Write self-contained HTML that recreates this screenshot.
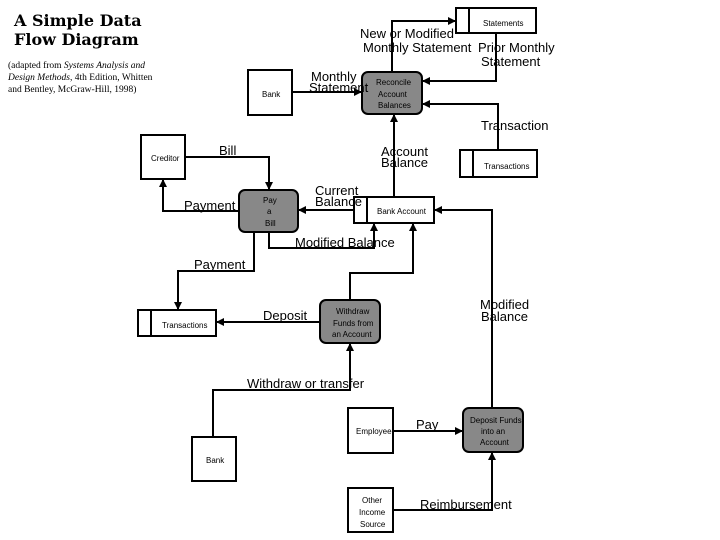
<!DOCTYPE html>
<html><head><meta charset="utf-8"><style>
body{margin:0;background:#fff;width:720px;height:540px;overflow:hidden}
svg{display:block}
.l{font-family:"Liberation Sans",sans-serif;font-size:13px;fill:#000}
.n{font-family:"Liberation Sans",sans-serif;font-size:8px;fill:#000}
.w{fill:#fff;stroke:#000;stroke-width:2}
.p{fill:#888;stroke:#000;stroke-width:2}
.c{fill:none;stroke:#000;stroke-width:2}
</style></head><body>
<svg width="720" height="540" viewBox="0 0 720 540">
<defs><marker id="a" markerWidth="8" markerHeight="8" refX="7" refY="4" orient="auto" markerUnits="userSpaceOnUse"><path d="M0,0L8,4L0,8z" fill="#000"/></marker></defs>
<text x="14" y="26" style="font-family:'DejaVu Serif',serif;font-weight:900;font-size:16px">A Simple Data</text>
<text x="14" y="45" style="font-family:'DejaVu Serif',serif;font-weight:900;font-size:16px">Flow Diagram</text>
<text x="8" y="68" style="font-family:'Liberation Serif',serif;font-size:9.5px">(adapted from <tspan font-style="italic">Systems Analysis and</tspan></text>
<text x="8" y="80" style="font-family:'Liberation Serif',serif;font-size:9.5px"><tspan font-style="italic">Design Methods,</tspan> 4th Edition, Whitten</text>
<text x="8" y="92" style="font-family:'Liberation Serif',serif;font-size:9.5px">and Bentley, McGraw-Hill, 1998)</text>

<!-- connectors -->
<path class="c" d="M292,92H361" marker-end="url(#a)"/>
<path class="c" d="M392,72V21H455" marker-end="url(#a)"/>
<path class="c" d="M496,33V81H423" marker-end="url(#a)"/>
<path class="c" d="M498,150V104H423" marker-end="url(#a)"/>
<path class="c" d="M394,197V115" marker-end="url(#a)"/>
<path class="c" d="M354,210H299" marker-end="url(#a)"/>
<path class="c" d="M269,232V248H374V224" marker-end="url(#a)"/>
<path class="c" d="M185,157H269V189" marker-end="url(#a)"/>
<path class="c" d="M239,211H163V180" marker-end="url(#a)"/>
<path class="c" d="M254,232V271H178V309" marker-end="url(#a)"/>
<path class="c" d="M350,300V273H413V224" marker-end="url(#a)"/>
<path class="c" d="M492,408V210H435" marker-end="url(#a)"/>
<path class="c" d="M320,322H217" marker-end="url(#a)"/>
<path class="c" d="M213,437V390H350V344" marker-end="url(#a)"/>
<path class="c" d="M393,431H462" marker-end="url(#a)"/>
<path class="c" d="M393,510H492V453" marker-end="url(#a)"/>

<!-- nodes -->
<rect class="w" x="456" y="8" width="80" height="25"/><line class="c" x1="469" y1="8" x2="469" y2="33"/>
<text class="n" x="483" y="26">Statements</text>
<rect class="p" x="362" y="72" width="60" height="42" rx="6"/>
<text class="n" x="376" y="85">Reconcile</text><text class="n" x="378" y="97">Account</text><text class="n" x="378" y="108">Balances</text>
<rect class="w" x="248" y="70" width="44" height="45"/><text class="n" x="262" y="97">Bank</text>
<rect class="w" x="460" y="150" width="77" height="27"/><line class="c" x1="473" y1="150" x2="473" y2="177"/>
<text class="n" x="484" y="169">Transactions</text>
<rect class="w" x="141" y="135" width="44" height="44"/><text class="n" x="151" y="161">Creditor</text>
<rect class="p" x="239" y="190" width="59" height="42" rx="6"/>
<text class="n" x="263" y="203">Pay</text><text class="n" x="267" y="214">a</text><text class="n" x="265" y="226">Bill</text>
<rect class="w" x="354" y="197" width="80" height="26"/><line class="c" x1="367" y1="197" x2="367" y2="223"/>
<text class="n" x="377" y="214">Bank Account</text>
<rect class="w" x="138" y="310" width="78" height="26"/><line class="c" x1="151" y1="310" x2="151" y2="336"/>
<text class="n" x="162" y="328">Transactions</text>
<rect class="p" x="320" y="300" width="60" height="43" rx="6"/>
<text class="n" x="336" y="314">Withdraw</text><text class="n" x="333" y="326">Funds from</text><text class="n" x="332" y="337">an Account</text>
<rect class="w" x="192" y="437" width="44" height="44"/><text class="n" x="206" y="463">Bank</text>
<rect class="w" x="348" y="408" width="45" height="45"/><text class="n" x="356" y="434">Employee</text>
<rect class="p" x="463" y="408" width="60" height="44" rx="6"/>
<text class="n" x="470" y="423">Deposit Funds</text><text class="n" x="481" y="434">into an</text><text class="n" x="480" y="445">Account</text>
<rect class="w" x="348" y="488" width="45" height="44"/>
<text class="n" x="362" y="503">Other</text><text class="n" x="359" y="515">Income</text><text class="n" x="360" y="527">Source</text>

<!-- labels -->
<text class="l" x="311" y="81">Monthly</text><text class="l" x="309" y="92">Statement</text>
<text class="l" x="360" y="38">New or Modified</text><text class="l" x="363" y="52">Monthly Statement</text>
<text class="l" x="478" y="52">Prior Monthly</text><text class="l" x="481" y="66">Statement</text>
<text class="l" x="481" y="130">Transaction</text>
<text class="l" x="381" y="156">Account</text><text class="l" x="381" y="167">Balance</text>
<text class="l" x="315" y="195">Current</text><text class="l" x="315" y="206">Balance</text>
<text class="l" x="295" y="247">Modified Balance</text>
<text class="l" x="219" y="155">Bill</text>
<text class="l" x="184" y="210">Payment</text>
<text class="l" x="194" y="269">Payment</text>
<text class="l" x="263" y="320">Deposit</text>
<text class="l" x="480" y="309">Modified</text><text class="l" x="481" y="321">Balance</text>
<text class="l" x="247" y="388">Withdraw or transfer</text>
<text class="l" x="416" y="429">Pay</text>
<text class="l" x="420" y="509">Reimbursement</text>
</svg>
</body></html>
